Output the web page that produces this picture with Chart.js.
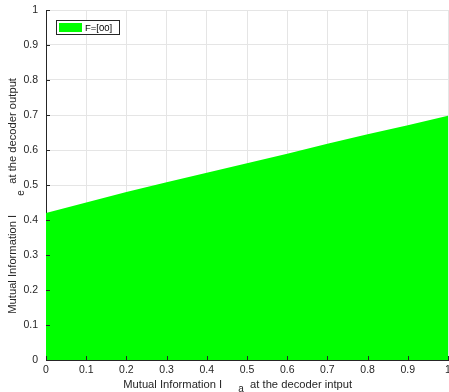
<!DOCTYPE html>
<html>
<head>
<meta charset="utf-8">
<script src="https://cdn.jsdelivr.net/npm/chart.js@4/dist/chart.umd.min.js"></script>
<style>
html,body{margin:0;padding:0;background:#fff;}
#wrap{width:449px;height:392px;position:relative;}
</style>
</head>
<body>
<div id="wrap"><canvas id="c" width="449" height="392"></canvas></div>
<script>
const seriesLabel = 'F=[00]';
const xValues = [0, 0.1, 0.2, 0.3, 0.4, 0.5, 0.6, 0.7, 0.8, 0.9, 1.0];
const yValues = [0.42, 0.45, 0.48, 0.508, 0.535, 0.562, 0.589, 0.618, 0.645, 0.671, 0.698];
const tickValues = [0, 0.1, 0.2, 0.3, 0.4, 0.5, 0.6, 0.7, 0.8, 0.9, 1];
const tickLabels = ['0', '0.1', '0.2', '0.3', '0.4', '0.5', '0.6', '0.7', '0.8', '0.9', '1'];
const xTitle = 'Mutual Information I         at the decoder intput      ';
const yTitle = 'Mutual Information I          at the decoder output       ';
const xSub = 'a';
const ySub = 'e';

const FONT = 'Liberation Sans, Arial, Helvetica, sans-serif';
const TXT = '#262626';

const extras = {
  id: 'extras',
  afterDraw(chart) {
    const ctx = chart.ctx;
    const a = chart.chartArea;
    const xs = chart.scales.x, ys = chart.scales.y;
    ctx.save();
    // inward tick marks
    ctx.strokeStyle = '#262626';
    ctx.lineWidth = 1;
    tickValues.forEach(v => {
      const py = Math.round(ys.getPixelForValue(v)) + 0.5;
      ctx.beginPath(); ctx.moveTo(a.left, py); ctx.lineTo(a.left + 4, py); ctx.stroke();
      const px = Math.round(xs.getPixelForValue(v)) + 0.5;
      ctx.beginPath(); ctx.moveTo(px, a.bottom); ctx.lineTo(px, a.bottom - 4); ctx.stroke();
    });
    // subscripts
    ctx.fillStyle = TXT;
    ctx.font = '10px ' + FONT;
    ctx.textAlign = 'center';
    ctx.textBaseline = 'middle';
    ctx.fillText(xSub, 241, 389);
    ctx.save();
    ctx.translate(21, 193);
    ctx.rotate(-Math.PI / 2);
    ctx.fillText(ySub, 0, 0);
    ctx.restore();
    // legend
    const lx = 56.5, ly = 20.5, lw = 63, lh = 14;
    ctx.fillStyle = '#fff';
    ctx.fillRect(lx, ly, lw, lh);
    ctx.strokeStyle = '#262626';
    ctx.strokeRect(lx, ly, lw, lh);
    ctx.fillStyle = '#00ff00';
    ctx.fillRect(59, 23, 23, 9);
    ctx.fillStyle = '#000';
    ctx.font = '9.5px ' + FONT;
    ctx.textAlign = 'left';
    ctx.fillText(chart.data.datasets[0].label, 85, 28);
    ctx.restore();
  }
};

new Chart(document.getElementById('c'), {
  type: 'line',
  data: {
    datasets: [{
      label: seriesLabel,
      data: xValues.map((x, i) => ({x: x, y: yValues[i]})),
      fill: 'origin',
      backgroundColor: '#00ff00',
      borderColor: '#00ff00',
      borderWidth: 0,
      pointRadius: 0,
      tension: 0
    }]
  },
  options: {
    responsive: false,
    animation: false,
    devicePixelRatio: 1,
    layout: {padding: {top: 10, right: 1, left: 0, bottom: 0}},
    plugins: {legend: {display: false}, tooltip: {enabled: false}},
    scales: {
      x: {
        type: 'linear', min: 0, max: 1,
        afterBuildTicks: s => { s.ticks = tickValues.map(v => ({value: v})); },
        afterFit: s => { s.height = 32; s.paddingRight = 0; s.paddingLeft = 0; },
        grid: {color: '#e5e5e5', lineWidth: 1, drawTicks: false},
        border: {color: '#262626', width: 1},
        ticks: {
          padding: 4, color: TXT, font: {family: FONT, size: 10.5},
          maxRotation: 0, autoSkip: false,
          callback: (v, i) => tickLabels[i]
        },
        title: {display: true, text: xTitle, color: TXT, font: {family: FONT, size: 11.2}, padding: {top: 0, bottom: 0}}
      },
      y: {
        type: 'linear', min: 0, max: 1,
        afterBuildTicks: s => { s.ticks = tickValues.map(v => ({value: v})); },
        afterFit: s => { s.width = 46; s.paddingTop = 0; s.paddingBottom = 0; },
        grid: {color: '#e5e5e5', lineWidth: 1, drawTicks: false},
        border: {color: '#262626', width: 1},
        ticks: {
          padding: 8, color: TXT, font: {family: FONT, size: 10.5},
          autoSkip: false,
          callback: (v, i) => tickLabels[i]
        },
        title: {display: true, text: yTitle, color: TXT, font: {family: FONT, size: 11.2}, padding: {top: 6, bottom: 0}}
      }
    }
  },
  plugins: [extras]
});
</script>
</body>
</html>
